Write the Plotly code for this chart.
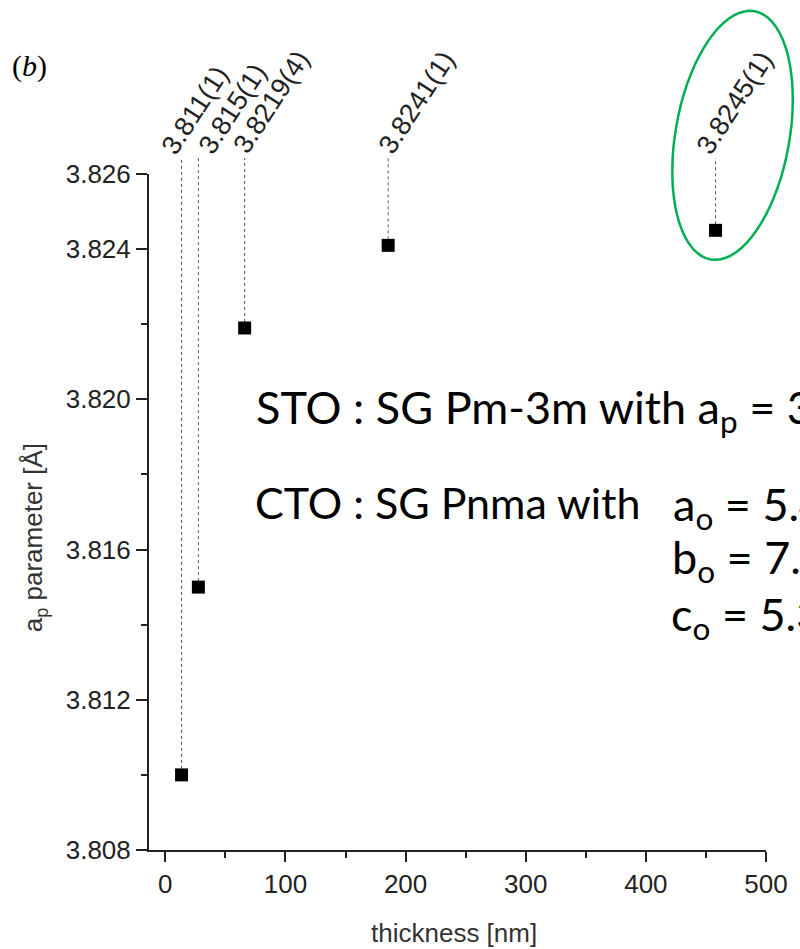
import math
import plotly.graph_objects as go

# ---- data ----
thickness = [13.5, 27.5, 66, 185.5, 458]
a_param = [3.8100, 3.8150, 3.8219, 3.8241, 3.8245]
value_labels = ["3.811(1)", "3.815(1)", "3.8219(4)", "3.8241(1)", "3.8245(1)"]
x_ticks = [0, 100, 200, 300, 400, 500]
x_minor = [50, 150, 250, 350, 450]
y_ticks = [3.808, 3.812, 3.816, 3.820, 3.824, 3.826]
y_tick_text = ["3.808", "3.812", "3.816", "3.820", "3.824", "3.826"]
y_minor = [3.810, 3.814, 3.818, 3.822]

# ---- layout geometry (pixels) ----
W, H = 800, 949
ML, MR, MT, MB = 149, 27, 174, 99
XR = [-13.6, 500]
YR = [3.808, 3.826]
PW = W - ML - MR
PH = H - MT - MB


def py(v):  # paper fraction of y value
    return (v - YR[0]) / (YR[1] - YR[0])


def ppx(px):  # paper x from pixel
    return (px - ML) / PW


def ppy(pxy):  # paper y from pixel
    return (H - MB - pxy) / PH


line_top = ppy(158)
label_shift = [-29, -9, -20, -18, -27]

fig = go.Figure()
fig.add_trace(go.Scatter(
    x=thickness, y=a_param, mode="markers",
    marker=dict(symbol="square", size=13, color="black"),
    cliponaxis=False, showlegend=False, hoverinfo="x+y"))

shapes = []
annotations = []
for xv, yv, lab, sh in zip(thickness, a_param, value_labels, label_shift):
    shapes.append(dict(type="line", xref="x", yref="paper",
                       x0=xv, x1=xv, y0=py(yv), y1=line_top,
                       line=dict(color="#555555", width=1, dash="dot"),
                       layer="below"))
    annotations.append(dict(x=xv, y=line_top, xref="x", yref="paper",
                            text=lab, showarrow=False, textangle=-57,
                            xanchor="left", yanchor="bottom", xshift=sh, yshift=-4,
                            font=dict(family="Liberation Sans, Arial", size=27, color="#222222")))

# green ellipse around last point (pixel offsets, y up)
a_ax, b_ax, tilt = 126, 57, math.radians(10)
cx, cy = 17, 95
pts = []
for k in range(73):
    t = 2 * math.pi * k / 72
    ux, uy = math.sin(tilt), math.cos(tilt)
    vx, vy = math.cos(tilt), -math.sin(tilt)
    ex = cx + a_ax * math.cos(t) * ux + b_ax * math.sin(t) * vx
    ey = cy + a_ax * math.cos(t) * uy + b_ax * math.sin(t) * vy
    pts.append(f"{ex:.1f},{ey:.1f}")
path = "M " + " L ".join(pts) + " Z"
shapes.append(dict(type="path", path=path, xref="paper", yref="paper",
                   xsizemode="pixel", ysizemode="pixel",
                   xanchor=(thickness[-1] - XR[0]) / (XR[1] - XR[0]),
                   yanchor=py(a_param[-1]),
                   line=dict(color="#00B050", width=2.5)))

txt_font = dict(family="Lato, Carlito, Calibri", size=45, color="black")
cto_font = dict(family="Lato, Carlito, Calibri", size=43, color="black")
annotations += [
    dict(x=ppx(255), y=ppy(410), xref="paper", yref="paper", showarrow=False,
         xanchor="left", yanchor="middle",
         text="STO : SG Pm-3m with a<sub>p</sub> = 3.905 Å", font=txt_font),
    dict(x=ppx(254), y=ppy(502), xref="paper", yref="paper", showarrow=False,
         xanchor="left", yanchor="middle",
         text="CTO : SG Pnma with", font=cto_font),
    dict(x=ppx(677), y=ppy(507), xref="paper", yref="paper", showarrow=False,
         xanchor="left", yanchor="middle",
         text="a<sub>o</sub> = 5.44 Å", font=txt_font),
    dict(x=ppx(676), y=ppy(560), xref="paper", yref="paper", showarrow=False,
         xanchor="left", yanchor="middle",
         text="b<sub>o</sub> = 7.64 Å", font=txt_font),
    dict(x=ppx(675), y=ppy(617), xref="paper", yref="paper", showarrow=False,
         xanchor="left", yanchor="middle",
         text="c<sub>o</sub> = 5.38 Å", font=txt_font),
    dict(x=ppx(28), y=ppy(66), xref="paper", yref="paper", showarrow=False,
         xanchor="center", yanchor="middle",
         text="(<i>b</i>)", font=dict(family="Liberation Serif, Times New Roman", size=30, color="black")),
    # axis titles
    dict(x=ppx(33), y=ppy(538), xref="paper", yref="paper", showarrow=False,
         xanchor="center", yanchor="middle", textangle=-90,
         text="a<sub>p</sub> parameter [Å]",
         font=dict(family="Liberation Sans, Arial", size=26, color="#333333")),
    dict(x=ppx(457), y=ppy(933), xref="paper", yref="paper", showarrow=False,
         xanchor="center", yanchor="middle",
         text="thickness [nm]",
         font=dict(family="Liberation Sans, Arial", size=26, color="#333333")),
]

axis_font = dict(family="Liberation Sans, Arial", size=26, color="#222222")
fig.update_layout(
    width=W, height=H,
    margin=dict(l=ML, r=MR, t=MT, b=MB, pad=0),
    paper_bgcolor="white", plot_bgcolor="white",
    shapes=shapes, annotations=annotations,
    xaxis=dict(range=XR, showgrid=False, zeroline=False,
               showline=True, linecolor="#222222", linewidth=2,
               tickmode="array", tickvals=x_ticks, ticks="outside",
               ticklen=10, tickwidth=2, tickcolor="#222222",
               minor=dict(tickmode="array", tickvals=x_minor,
                          ticks="outside", ticklen=6, tickwidth=2, tickcolor="#222222"),
               tickfont=axis_font),
    yaxis=dict(range=YR, showgrid=False, zeroline=False,
               showline=True, linecolor="#222222", linewidth=2,
               tickmode="array", tickvals=y_ticks, ticktext=y_tick_text,
               ticks="outside", ticklen=11, tickwidth=2, tickcolor="#222222",
               minor=dict(tickmode="array", tickvals=y_minor,
                          ticks="outside", ticklen=6, tickwidth=2, tickcolor="#222222"),
               tickfont=axis_font),
)

fig.write_html("out.html", config={"displayModeBar": False},
               post_script="document.body.style.margin='0';")
